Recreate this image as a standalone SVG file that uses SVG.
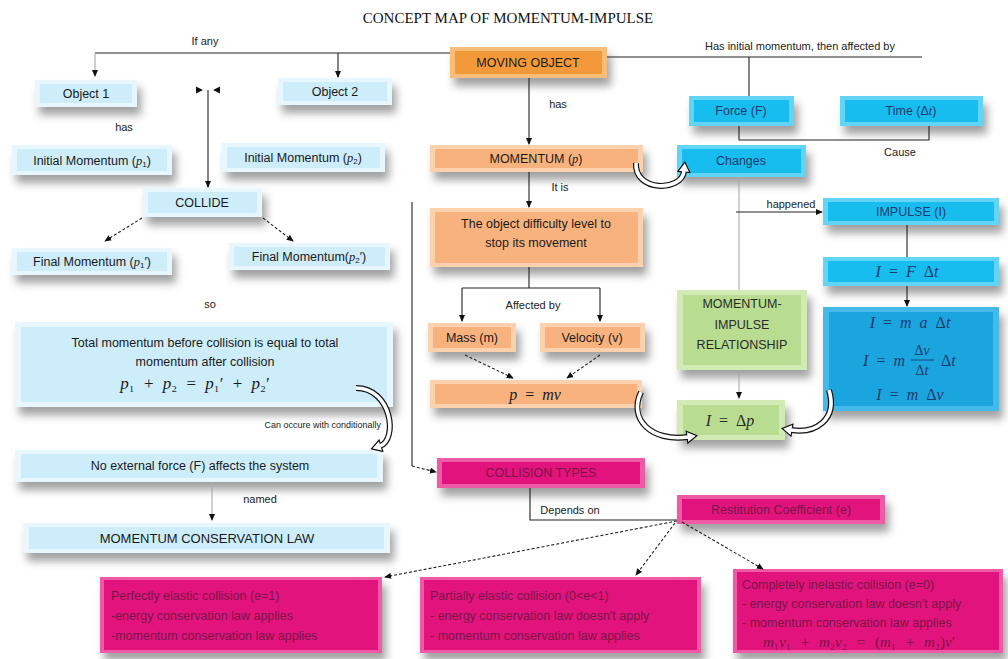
<svg xmlns="http://www.w3.org/2000/svg" width="1008" height="659" viewBox="0 0 1008 659">
<defs>
<filter id="blur" x="-30%" y="-60%" width="160%" height="220%"><feGaussianBlur stdDeviation="4"/></filter>
<marker id="ah" viewBox="0 0 8 8" markerWidth="7" markerHeight="7" refX="7" refY="4" orient="auto" markerUnits="userSpaceOnUse"><path d="M0,0.5 L8,4 L0,7.5z" fill="#111"/></marker>
<marker id="bh" viewBox="0 0 12 14" markerWidth="12" markerHeight="14" refX="2" refY="7" orient="auto" markerUnits="userSpaceOnUse"><path d="M1,1 L11,7 L1,13z" fill="#fff" stroke="#111" stroke-width="1.2"/></marker>
</defs>
<style>
text{font-family:"Liberation Sans",Arial,sans-serif;fill:#1a1a1a}
.title{font-family:"Liberation Serif","Times New Roman",serif;font-size:15px;text-anchor:middle;fill:#111}
.t{font-size:12.5px;text-anchor:middle}
.lbl{font-size:11px;fill:#222;text-anchor:middle}
.i{font-family:"Liberation Serif","DejaVu Serif",serif;font-style:italic}
.mf{font-family:"Liberation Serif","DejaVu Serif",serif;font-size:16px;text-anchor:middle;word-spacing:4px}
.sh{fill:#444;opacity:.5;filter:url(#blur)}
.lb .e{fill:#e8f7fd}.lb .f{fill:#cdedfb}
.or .e{fill:#fcd2ae}.or .f{fill:#f8b27d}
.od .e{fill:#f9bd7a}.od .f{fill:#f4993a}
.cy .e{fill:#62d5f6}.cy .f{fill:#18bdef}
.bl .e{fill:#45b9e9}.bl .f{fill:#1aa5df}
.gr .e{fill:#d2eab3}.gr .f{fill:#b8dd90}
.pk .e{fill:#ee5aa6}.pk .f{fill:#e3137d}
.cy text,.bl text{fill:#1f3a6e}
.gr text{fill:#2a2a2a}
.pk text{fill:#7a1548;font-size:12.5px}
.c{fill:none;stroke:#222;stroke-width:1.1}
.g{stroke:#aaa}
.d{stroke-dasharray:3 2}
.ba{fill:none;stroke:#111;stroke-width:6}
.bi{fill:none;stroke:#fff;stroke-width:3.6}
</style>
<rect width="1008" height="659" fill="#fff"/>
<text class="title" x="508" y="23">CONCEPT MAP OF MOMENTUM-IMPULSE</text>

<!-- light blue nodes -->
<g id="object1" class="lb"><rect class="sh" x="39" y="88" width="102" height="27"/><rect class="e" x="35" y="80" width="102" height="27"/><rect class="f" x="40" y="84" width="92" height="19"/><text class="t" x="86" y="98">Object 1</text></g>
<g id="object2" class="lb"><rect class="sh" x="282" y="86" width="114" height="27"/><rect class="e" x="278" y="78" width="114" height="27"/><rect class="f" x="283" y="82" width="104" height="19"/><text class="t" x="335" y="96">Object 2</text></g>
<g id="init1" class="lb"><rect class="sh" x="16" y="153" width="160" height="30"/><rect class="e" x="12" y="145" width="160" height="30"/><rect class="f" x="17" y="149" width="150" height="22"/><text class="t" x="92" y="165">Initial Momentum (<tspan class="i">p</tspan><tspan font-size="8" dy="2">1</tspan><tspan dy="-2">)</tspan></text></g>
<g id="init2" class="lb"><rect class="sh" x="226" y="151" width="163" height="29"/><rect class="e" x="222" y="143" width="163" height="29"/><rect class="f" x="227" y="147" width="153" height="21"/><text class="t" x="303" y="162">Initial Momentum (<tspan class="i">p</tspan><tspan font-size="8" dy="2">2</tspan><tspan dy="-2">)</tspan></text></g>
<g id="collide" class="lb"><rect class="sh" x="147" y="196" width="119" height="29"/><rect class="e" x="143" y="188" width="119" height="29"/><rect class="f" x="148" y="192" width="109" height="21"/><text class="t" x="202" y="207">COLLIDE</text></g>
<g id="final1" class="lb"><rect class="sh" x="16" y="256" width="160" height="27"/><rect class="e" x="12" y="248" width="160" height="27"/><rect class="f" x="17" y="252" width="150" height="19"/><text class="t" x="92" y="266">Final Momentum (<tspan class="i">p</tspan><tspan font-size="8" dy="2">1</tspan><tspan dy="-2">′)</tspan></text></g>
<g id="final2" class="lb"><rect class="sh" x="233" y="251" width="161" height="27"/><rect class="e" x="229" y="243" width="161" height="27"/><rect class="f" x="234" y="247" width="151" height="19"/><text class="t" x="309" y="261">Final Momentum(<tspan class="i">p</tspan><tspan font-size="8" dy="2">2</tspan><tspan dy="-2">′)</tspan></text></g>
<g id="total" class="lb"><rect class="sh" x="19" y="330" width="378" height="85"/><rect class="e" x="15" y="322" width="378" height="85"/><rect class="f" x="21" y="327" width="366" height="75"/><text class="t" x="205" y="347">Total momentum before collision is equal to total</text><text class="t" x="205" y="366">momentum after collision</text><text class="mf" x="195" y="389" style="font-size:17px;word-spacing:5px"><tspan class="i">p</tspan>₁ + <tspan class="i">p</tspan>₂ = <tspan class="i">p</tspan>₁′ + <tspan class="i">p</tspan>₂′</text></g>
<g id="noext" class="lb"><rect class="sh" x="19" y="458" width="368" height="32"/><rect class="e" x="15" y="450" width="368" height="32"/><rect class="f" x="21" y="454" width="356" height="24"/><text class="t" x="200" y="470">No external force (F) affects the system</text></g>
<g id="mcl" class="lb"><rect class="sh" x="27" y="531" width="367" height="30"/><rect class="e" x="23" y="523" width="367" height="30"/><rect class="f" x="29" y="527" width="355" height="22"/><text class="t" x="207" y="543" style="font-size:13px">MOMENTUM CONSERVATION LAW</text></g>

<!-- orange nodes -->
<g id="moving" class="od"><rect class="sh" x="454" y="55" width="157" height="31"/><rect class="e" x="450" y="47" width="157" height="31"/><rect class="f" x="455" y="51" width="147" height="23"/><text class="t" x="528" y="67">MOVING OBJECT</text></g>
<g id="momentum" class="or"><rect class="sh" x="434" y="153" width="213" height="27"/><rect class="e" x="430" y="145" width="213" height="27"/><rect class="f" x="435" y="149" width="203" height="19"/><text class="t" x="536" y="163">MOMENTUM (<tspan class="i">p</tspan>)</text></g>
<g id="difficulty" class="or"><rect class="sh" x="434" y="216" width="213" height="59"/><rect class="e" x="430" y="208" width="213" height="59"/><rect class="f" x="435" y="212" width="203" height="51"/><text class="t" x="536" y="228">The object difficulty level to</text><text class="t" x="536" y="247">stop its movement</text></g>
<g id="mass" class="or"><rect class="sh" x="432" y="331" width="88" height="29"/><rect class="e" x="428" y="323" width="88" height="29"/><rect class="f" x="433" y="327" width="78" height="21"/><text class="t" x="472" y="342">Mass (m)</text></g>
<g id="velocity" class="or"><rect class="sh" x="544" y="331" width="105" height="29"/><rect class="e" x="540" y="323" width="105" height="29"/><rect class="f" x="545" y="327" width="95" height="21"/><text class="t" x="592" y="342">Velocity (v)</text></g>
<g id="pmv" class="or"><rect class="sh" x="434" y="388" width="212" height="28"/><rect class="e" x="430" y="380" width="212" height="28"/><rect class="f" x="435" y="384" width="202" height="20"/><text class="mf" x="535" y="400"><tspan class="i">p</tspan> = <tspan class="i">mv</tspan></text></g>

<!-- cyan / blue nodes -->
<g id="force" class="cy"><rect class="sh" x="693" y="104" width="105" height="30"/><rect class="e" x="689" y="96" width="105" height="30"/><rect class="f" x="694" y="100" width="95" height="22"/><text class="t" x="741" y="115">Force (F)</text></g>
<g id="time" class="cy"><rect class="sh" x="844" y="104" width="143" height="30"/><rect class="e" x="840" y="96" width="143" height="30"/><rect class="f" x="845" y="100" width="133" height="22"/><text class="t" x="911" y="115">Time (Δ<tspan class="i">t</tspan>)</text></g>
<g id="changes" class="cy"><rect class="sh" x="681" y="153" width="129" height="32"/><rect class="e" x="677" y="145" width="129" height="32"/><rect class="f" x="682" y="149" width="119" height="24"/><text class="t" x="741" y="165">Changes</text></g>
<g id="impulse" class="cy"><rect class="sh" x="827" y="206" width="176" height="27"/><rect class="e" x="823" y="198" width="176" height="27"/><rect class="f" x="828" y="202" width="166" height="19"/><text class="t" x="911" y="216">IMPULSE (I)</text></g>
<g id="ifdt" class="cy"><rect class="sh" x="827" y="265" width="176" height="29"/><rect class="e" x="823" y="257" width="176" height="29"/><rect class="f" x="828" y="261" width="166" height="21"/><text class="mf" x="907" y="277"><tspan class="i">I</tspan> = <tspan class="i">F</tspan> Δ<tspan class="i">t</tspan></text></g>
<g id="formulas" class="bl"><rect class="sh" x="827" y="315" width="176" height="104"/><rect class="e" x="823" y="307" width="176" height="104"/><rect class="f" x="829" y="312" width="164" height="94"/>
<text class="mf" x="910" y="328"><tspan class="i">I</tspan> = <tspan class="i">m a</tspan> Δ<tspan class="i">t</tspan></text>
<text class="mf" x="905" y="366" style="text-anchor:end"><tspan class="i">I</tspan> = <tspan class="i">m</tspan></text>
<text class="mf" x="922" y="355" style="font-size:14px">Δ<tspan class="i">v</tspan></text>
<line x1="911" y1="360" x2="934" y2="360" stroke="#1f3a6e" stroke-width="0.9"/>
<text class="mf" x="922" y="375" style="font-size:14px">Δ<tspan class="i">t</tspan></text>
<text class="mf" x="941" y="366" style="text-anchor:start">Δ<tspan class="i">t</tspan></text>
<text class="mf" x="910" y="400"><tspan class="i">I</tspan> = <tspan class="i">m</tspan> Δ<tspan class="i">v</tspan></text></g>

<!-- green nodes -->
<g id="mirel" class="gr"><rect class="sh" x="681" y="298" width="130" height="80"/><rect class="e" x="677" y="290" width="130" height="80"/><rect class="f" x="683" y="295" width="118" height="70"/><text class="t" x="742" y="308">MOMENTUM-</text><text class="t" x="742" y="329">IMPULSE</text><text class="t" x="742" y="349">RELATIONSHIP</text></g>
<g id="idp" class="gr"><rect class="sh" x="681" y="408" width="108" height="40"/><rect class="e" x="677" y="400" width="108" height="40"/><rect class="f" x="683" y="405" width="96" height="30"/><text class="mf" x="730" y="426"><tspan class="i">I</tspan> = Δ<tspan class="i">p</tspan></text></g>

<!-- pink nodes -->
<g id="coltypes" class="pk"><rect class="sh" x="441" y="466" width="208" height="30"/><rect class="e" x="437" y="458" width="208" height="30"/><rect class="f" x="442" y="462" width="198" height="22"/><text x="541" y="477" text-anchor="middle">COLLISION TYPES</text></g>
<g id="restitution" class="pk"><rect class="sh" x="681" y="503" width="208" height="29"/><rect class="e" x="677" y="495" width="208" height="29"/><rect class="f" x="682" y="499" width="198" height="21"/><text x="781" y="514" text-anchor="middle">Restitution Coefficient (e)</text></g>
<g id="perfect" class="pk"><rect class="sh" x="104" y="585" width="282" height="76"/><rect class="e" x="100" y="577" width="282" height="76"/><rect class="f" x="104" y="580" width="274" height="70"/><text x="111" y="600">Perfectly elastic collision (e=1)</text><text x="111" y="620">-energy conservation law applies</text><text x="111" y="640">-momentum conservation law applies</text></g>
<g id="partial" class="pk"><rect class="sh" x="424" y="585" width="281" height="76"/><rect class="e" x="420" y="577" width="281" height="76"/><rect class="f" x="424" y="580" width="273" height="70"/><text x="430" y="600">Partially elastic collision (0&lt;e&lt;1)</text><text x="430" y="620">- energy conservation law doesn't apply</text><text x="430" y="640">- momentum conservation law applies</text></g>
<g id="complete" class="pk"><rect class="sh" x="737" y="577" width="270" height="84"/><rect class="e" x="733" y="569" width="270" height="84"/><rect class="f" x="737" y="572" width="262" height="78"/><text x="742" y="589">Completely inelastic collision  (e=0)</text><text x="742" y="608">- energy conservation law doesn't apply</text><text x="742" y="627">- momentum conservation law applies</text><text x="763" y="647" style="font-family:'Liberation Serif','DejaVu Serif',serif;font-size:15px;word-spacing:6px"><tspan font-style="italic">m</tspan>₁<tspan font-style="italic">v</tspan>₁ + <tspan font-style="italic">m</tspan>₂<tspan font-style="italic">v</tspan>₂ = (<tspan font-style="italic">m</tspan>₁ + <tspan font-style="italic">m</tspan>₂)<tspan font-style="italic">v</tspan>′</text></g>

<!-- connectors -->
<g id="connectors">
<path class="c" d="M450,53 H95"/>
<path class="c g" d="M95,53 V76" marker-end="url(#ah)"/>
<path class="c" d="M338,53 V77" marker-end="url(#ah)"/>
<path class="c" d="M607,57 H922 M749,57 V96"/>
<path d="M196,86.5 L203,90 L196,93.5z M220,86.5 L213,90 L220,93.5z" fill="#111"/>
<path class="c" d="M208,90 V187" marker-end="url(#ah)"/>
<path class="c d" d="M142,218 L105,241" marker-end="url(#ah)"/>
<path class="c d" d="M263,218 L293,241" marker-end="url(#ah)"/>
<path class="c" d="M529,78 V144" marker-end="url(#ah)"/>
<path class="c" d="M529,172 V207" marker-end="url(#ah)"/>
<path class="c" d="M529,267 V288 M462,288 H600"/>
<path class="c" d="M462,288 V321" marker-end="url(#ah)"/>
<path class="c" d="M600,288 V321" marker-end="url(#ah)"/>
<path class="c d" d="M465,355 L513,378" marker-end="url(#ah)"/>
<path class="c d" d="M600,355 L567,378" marker-end="url(#ah)"/>
<path class="c" d="M412,202 V466"/>
<path class="c d" d="M412,466 L436,472" marker-end="url(#ah)"/>
<path class="c" d="M530,488 V520 H677"/>
<path class="c d" d="M677,521 L385,577" marker-end="url(#ah)"/>
<path class="c d" d="M675,523 L636,575" marker-end="url(#ah)"/>
<path class="c d" d="M682,522 L763,569" marker-end="url(#ah)"/>
<path class="c" d="M739,126 V140 H929 V126"/>
<path class="c g" d="M739,177 V290 M739,370 V398" marker-end="url(#ah)"/>
<path class="c" d="M736,212 H822" marker-end="url(#ah)"/>
<path class="c" d="M907,225 V257"/>
<path class="c" d="M907,286 V306" marker-end="url(#ah)"/>
<path class="c g" d="M212,484 V520" marker-end="url(#ah)"/>
<path class="ba" d="M636,163 C634,192 682,192 684,171" marker-end="url(#bh)"/><path class="bi" d="M636,163 C634,192 682,192 684,171"/>
<path class="ba" d="M356,388 C392,388 398,440 380,446" marker-end="url(#bh)"/><path class="bi" d="M356,388 C392,388 398,440 380,446"/>
<path class="ba" d="M641,392 C628,420 652,442 688,437" marker-end="url(#bh)"/><path class="bi" d="M641,392 C628,420 652,442 688,437"/>
<path class="ba" d="M829,390 C838,420 815,434 791,430" marker-end="url(#bh)"/><path class="bi" d="M829,390 C838,420 815,434 791,430"/>
</g>

<!-- labels -->
<g id="labels">
<text class="lbl" x="205" y="45">If any</text>
<text class="lbl" x="800" y="50">Has initial momentum, then affected by</text>
<text class="lbl" x="124" y="131">has</text>
<text class="lbl" x="558" y="108">has</text>
<text class="lbl" x="560" y="191">It is</text>
<text class="lbl" x="533" y="309">Affected by</text>
<text class="lbl" x="900" y="156">Cause</text>
<text class="lbl" x="791" y="208">happened</text>
<text class="lbl" x="210" y="308">so</text>
<text class="lbl" x="381" y="428" style="font-size:9px;text-anchor:end">Can occure with conditionally</text>
<text class="lbl" x="260" y="503">named</text>
<text class="lbl" x="570" y="514">Depends on</text>
</g>
</svg>
